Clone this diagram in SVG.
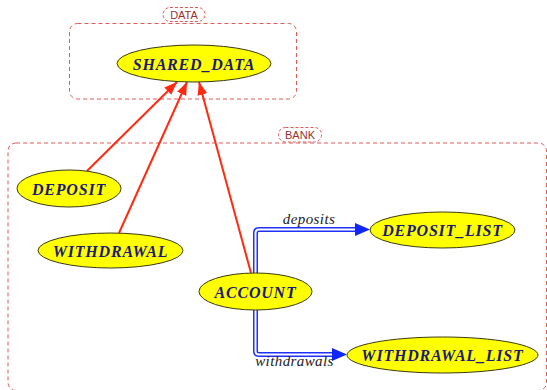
<svg xmlns="http://www.w3.org/2000/svg" width="547" height="390" viewBox="0 0 547 390">
<defs>
<style>
.cl{fill:none;stroke:#e05a5a;stroke-width:1;stroke-dasharray:4,3}
.pill{fill:#fff;stroke:#e05a5a;stroke-width:1;stroke-dasharray:3,2}
.pt{font-family:"Liberation Sans",Arial,sans-serif;font-size:11px;fill:#9a3030;text-anchor:middle}
.nd{fill:#ffff00;stroke:#3a3a10;stroke-width:1}
.nt{font-family:"Liberation Serif","Times New Roman",serif;font-size:16px;font-weight:bold;font-style:italic;fill:#1a1a78;text-anchor:middle;letter-spacing:0.8px}
.red{fill:none;stroke:#ff2a10;stroke-width:2;marker-end:url(#ra)}
.bo{fill:none;stroke:#2030ff;stroke-width:5;marker-end:url(#ba)}
.bi{fill:none;stroke:#fff;stroke-width:2}
.lb{font-family:"Liberation Serif","Times New Roman",serif;font-size:15px;font-style:italic;fill:#222;text-anchor:middle;letter-spacing:0.4px}
</style>
<marker id="ra" markerUnits="userSpaceOnUse" markerWidth="15" markerHeight="11" refX="13" refY="5" orient="auto">
<path d="M0,0 L13,5 L0,10 z" fill="#ff2a10"/>
</marker>
<marker id="ba" markerUnits="userSpaceOnUse" markerWidth="16" markerHeight="14" refX="0" refY="6.5" orient="auto">
<path d="M0,0 L15,6.5 L0,13 z" fill="#1028ff"/>
</marker>
</defs>

<g id="cluster-DATA">
<rect class="cl" x="69.5" y="23.5" width="227" height="75.5" rx="8"/>
<rect class="pill" x="163" y="7.5" width="42" height="14" rx="7"/>
<text class="pt" x="184" y="18.5">DATA</text>
</g>

<g id="cluster-BANK">
<rect class="cl" x="8" y="143" width="538.5" height="247.5" rx="8"/>
<rect class="pill" x="278.5" y="127.5" width="43" height="14.5" rx="7"/>
<text class="pt" x="300" y="139">BANK</text>
</g>

<g id="connectors">
<path class="red" d="M87,171 L177,82"/>
<path class="red" d="M119,233 L187,82"/>
<path class="red" d="M251,273 L199,82"/>
<path class="bo" d="M255.5,273 V233 Q255.5,229.5 259,229.5 H355"/>
<path class="bi" d="M255.5,273 V233 Q255.5,229.5 259,229.5 H355"/>
<path class="bo" d="M255.5,310 V351 Q255.5,354.5 259,354.5 H332"/>
<path class="bi" d="M255.5,310 V351 Q255.5,354.5 259,354.5 H332"/>
<text class="lb" x="309" y="224">deposits</text>
<text class="lb" x="294.5" y="366">withdrawals</text>
</g>

<g id="SHARED_DATA">
<ellipse class="nd" cx="194" cy="63.5" rx="77" ry="18.5"/>
<text class="nt" x="194" y="70">SHARED_DATA</text>
</g>
<g id="DEPOSIT">
<ellipse class="nd" cx="69" cy="188.5" rx="52" ry="18.5"/>
<text class="nt" x="69" y="194.5">DEPOSIT</text>
</g>
<g id="WITHDRAWAL">
<ellipse class="nd" cx="110.5" cy="250.5" rx="72.5" ry="17.5"/>
<text class="nt" x="110.5" y="256.5">WITHDRAWAL</text>
</g>
<g id="ACCOUNT">
<ellipse class="nd" cx="255.5" cy="291.5" rx="56.5" ry="18.5"/>
<text class="nt" x="255.5" y="297.5">ACCOUNT</text>
</g>
<g id="DEPOSIT_LIST">
<ellipse class="nd" cx="442.5" cy="230" rx="72.5" ry="18"/>
<text class="nt" x="442.5" y="236">DEPOSIT_LIST</text>
</g>
<g id="WITHDRAWAL_LIST">
<ellipse class="nd" cx="442.5" cy="355" rx="95.5" ry="18"/>
<text class="nt" x="442.5" y="361">WITHDRAWAL_LIST</text>
</g>
</svg>
